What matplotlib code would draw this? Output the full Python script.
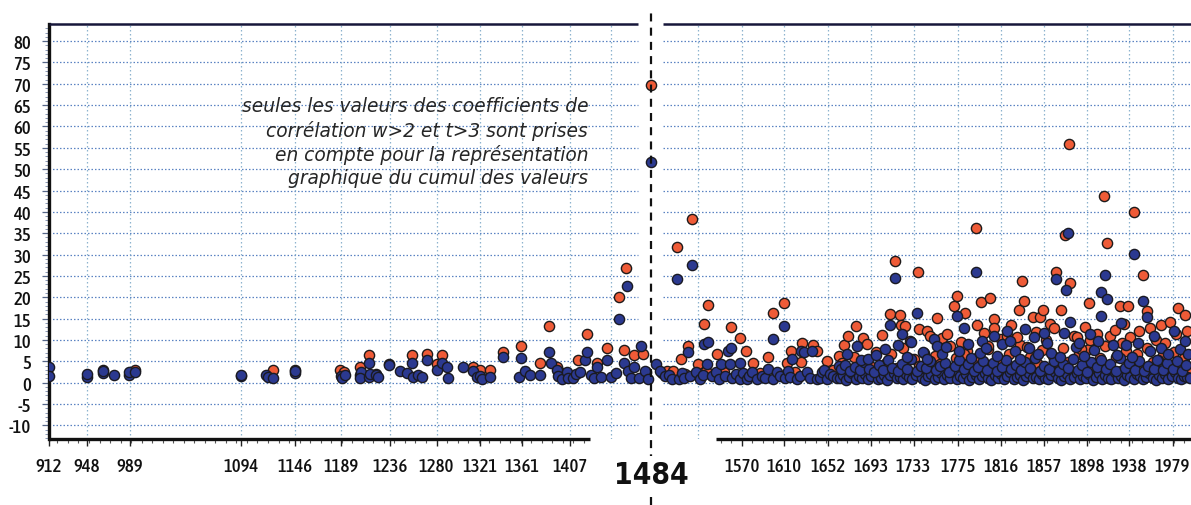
import matplotlib
matplotlib.use("Agg")
import matplotlib.pyplot as plt
from matplotlib import font_manager as fm

# ---------------- data (year, value) ----------------
blue_early = [(912, 3.6), (912, 1.6), (948, 1.4), (948, 2.1), (963, 2.2), (963, 2.7),
              (974, 1.9), (988, 1.9), (988, 2.4), (994, 2.6), (1094, 1.6), (1094, 1.9),
              (1118, 1.9), (1120, 1.4), (1125, 1.2), (1146, 2.2), (1146, 2.7)]
red_early = [(963, 2.9), (994, 3.0), (1125, 3.0), (1146, 3.0)]

blue_medieval = [(1189, 1.5), (1190, 1.0), (1193, 1.8), (1207, 1.8), (1208, 2.6), (1207, 1.1),
                 (1216, 4.7), (1216, 1.4), (1217, 2.0), (1223, 1.8), (1224, 1.3), (1235, 4.1),
                 (1245, 2.8), (1252, 2.2), (1258, 1.4), (1262, 1.8), (1266, 1.4), (1257, 4.7),
                 (1271, 5.3), (1280, 3.0), (1285, 4.7), (1290, 3.6), (1291, 1.2), (1305, 3.6),
                 (1315, 2.8), (1318, 1.4), (1321, 1.6), (1323, 0.8), (1331, 1.4), (1343, 6.1),
                 (1358, 1.4), (1360, 5.7), (1364, 2.8), (1369, 1.8), (1378, 1.8), (1387, 7.1),
                 (1389, 4.7), (1394, 3.0), (1395, 1.6), (1399, 0.8), (1404, 2.4), (1405, 1.0),
                 (1410, 1.2), (1412, 2.0), (1416, 2.4), (1421, 5.3), (1423, 7.1), (1427, 1.8),
                 (1430, 1.1), (1432, 3.6), (1436, 1.4), (1442, 5.3), (1446, 1.4), (1450, 2.2),
                 (1453, 14.9), (1458, 4.7), (1461, 22.7), (1462, 2.8), (1465, 1.0), (1468, 3.6),
                 (1472, 1.2), (1474, 8.6), (1478, 2.8), (1481, 0.8), (1484, 51.6)]
red_medieval = [(1188, 2.9), (1192, 2.4), (1207, 3.6), (1216, 6.4), (1223, 2.1), (1235, 4.3),
                (1257, 6.4), (1271, 6.8), (1280, 4.3), (1285, 6.4), (1315, 3.6), (1321, 3.0),
                (1331, 3.0), (1343, 7.2), (1360, 8.6), (1378, 4.7), (1387, 13.2), (1394, 3.6),
                (1399, 2.2), (1414, 5.3), (1423, 11.4), (1432, 4.5), (1442, 8.1), (1453, 20.1),
                (1458, 7.7), (1460, 26.9), (1468, 6.4), (1476, 6.8), (1479, 2.6), (1484, 69.6)]

blue_1500s = [(1488, 4.3), (1492, 2.8), (1497, 1.6), (1501, 1.8), (1504, 0.8), (1508, 24.2),
              (1510, 0.8), (1513, 2.2), (1515, 1.2), (1519, 7.1), (1521, 1.6), (1523, 27.6),
              (1526, 2.4), (1530, 0.8), (1533, 1.8), (1534, 9.0), (1537, 4.3), (1538, 9.6),
              (1542, 1.6), (1545, 2.6), (1548, 0.8), (1550, 4.3), (1554, 1.6), (1557, 7.5),
              (1559, 4.3), (1560, 8.2), (1561, 1.2), (1564, 2.0), (1568, 4.7), (1568, 0.8),
              (1571, 2.2), (1575, 0.8), (1577, 1.6), (1580, 2.4), (1584, 0.8), (1589, 1.6),
              (1592, 1.0), (1595, 3.2), (1600, 10.3), (1600, 0.8), (1603, 2.4), (1606, 1.6),
              (1610, 13.3), (1611, 1.0), (1614, 2.8), (1616, 1.4), (1618, 5.5), (1622, 0.8),
              (1625, 1.6), (1626, 7.5), (1629, 7.1), (1632, 2.4), (1635, 1.0), (1637, 7.3),
              (1641, 0.8), (1644, 1.2), (1646, 2.4), (1648, 3.0), (1651, 0.8), (1654, 2.0),
              (1657, 1.6), (1660, 1.0), (1662, 3.9)]
red_1500s = [(1494, 2.2), (1499, 2.8), (1505, 2.8), (1508, 31.7), (1512, 5.5), (1516, 2.0),
             (1519, 8.6), (1523, 38.3), (1528, 4.3), (1534, 13.7), (1536, 2.8), (1538, 18.1),
             (1546, 6.7), (1553, 2.5), (1560, 13.1), (1568, 10.4), (1574, 7.3), (1581, 4.7),
             (1587, 2.2), (1595, 5.9), (1600, 16.3), (1610, 18.6), (1613, 4.7), (1617, 7.5),
             (1620, 2.6), (1626, 4.9), (1627, 9.4), (1638, 8.9), (1641, 7.5), (1651, 5.1),
             (1657, 2.9), (1662, 6.3)]

blue_low_band = [(1663, 1.0), (1666, 1.8), (1669, 0.7), (1672, 1.4), (1675, 2.2), (1678, 0.9),
                 (1681, 1.6), (1684, 1.1), (1687, 2.0), (1690, 0.8), (1693, 1.5), (1696, 2.4),
                 (1699, 0.9), (1702, 1.2), (1705, 1.9), (1708, 0.7), (1711, 1.7), (1714, 2.3),
                 (1717, 1.0), (1720, 1.4), (1723, 0.8), (1726, 2.1), (1729, 1.3), (1732, 0.9),
                 (1735, 1.8), (1738, 2.5), (1741, 1.1), (1744, 0.7), (1747, 1.6), (1750, 2.0),
                 (1753, 0.9), (1756, 1.4), (1759, 2.2), (1762, 0.8), (1765, 1.7), (1768, 1.2),
                 (1771, 2.4), (1774, 0.9), (1777, 1.5), (1780, 1.0), (1783, 2.1), (1786, 0.7),
                 (1789, 1.3), (1792, 1.9), (1795, 0.8), (1798, 1.6), (1801, 2.3), (1804, 1.0),
                 (1807, 0.7), (1810, 1.8), (1813, 1.2), (1816, 2.0), (1819, 0.8), (1822, 1.5),
                 (1825, 2.4), (1828, 0.9), (1831, 1.3), (1834, 1.9), (1837, 0.7), (1840, 1.6),
                 (1843, 2.2), (1846, 1.0), (1849, 1.4), (1852, 0.8), (1855, 2.1), (1858, 1.2),
                 (1861, 0.9), (1864, 1.7), (1867, 2.5), (1870, 1.0), (1873, 0.7), (1876, 1.5),
                 (1879, 2.0), (1882, 0.9), (1885, 1.3), (1888, 2.3), (1891, 0.8), (1894, 1.6),
                 (1897, 1.1), (1900, 2.0), (1903, 0.7), (1906, 1.4), (1909, 2.2), (1912, 0.9),
                 (1915, 1.8), (1918, 1.2), (1921, 0.8), (1924, 2.4), (1927, 1.0), (1930, 1.5),
                 (1933, 0.7), (1936, 1.9), (1939, 1.3), (1942, 0.9), (1945, 2.1), (1948, 1.6),
                 (1951, 0.8), (1954, 1.4), (1957, 2.3), (1960, 1.0), (1963, 0.7), (1966, 1.7),
                 (1969, 1.2), (1972, 2.0), (1975, 0.9), (1978, 1.5), (1981, 2.4), (1984, 1.1),
                 (1987, 0.8), (1990, 1.6), (1993, 1.3), (1996, 1.0)]

blue_mid_band = [(1664, 3.1), (1668, 4.2), (1673, 2.7), (1677, 3.6), (1682, 2.9), (1686, 4.8),
                 (1691, 3.3), (1695, 2.6), (1700, 4.1), (1704, 3.0), (1709, 5.2), (1713, 3.5),
                 (1718, 2.8), (1722, 4.4), (1727, 3.2), (1731, 5.6), (1736, 2.7), (1740, 4.0),
                 (1745, 3.4), (1749, 5.0), (1754, 2.9), (1758, 3.8), (1763, 4.6), (1767, 2.6),
                 (1772, 3.9), (1776, 5.4), (1781, 3.1), (1785, 4.3), (1790, 2.8), (1794, 3.7),
                 (1799, 5.1), (1803, 3.0), (1808, 4.5), (1812, 2.7), (1817, 3.6), (1821, 5.3),
                 (1826, 3.2), (1830, 4.1), (1835, 2.9), (1839, 4.8), (1844, 3.4), (1848, 5.7),
                 (1853, 2.8), (1857, 4.0), (1862, 3.3), (1866, 5.0), (1871, 2.7), (1875, 4.4),
                 (1880, 3.5), (1884, 5.5), (1889, 3.0), (1893, 4.2), (1898, 2.6), (1902, 4.9),
                 (1907, 3.6), (1911, 5.2), (1916, 3.1), (1920, 4.3), (1925, 2.8), (1929, 5.8),
                 (1934, 3.4), (1938, 4.6), (1943, 3.0), (1947, 5.1), (1952, 2.7), (1956, 4.0),
                 (1961, 3.3), (1965, 5.4), (1970, 2.9), (1974, 4.5), (1979, 3.2), (1983, 5.0),
                 (1988, 2.8), (1992, 4.2)]

blue_upper = [(1670, 6.7), (1679, 8.6), (1683, 5.2), (1690, 5.6), (1697, 6.4), (1706, 7.8),
              (1711, 13.5), (1715, 24.6), (1718, 8.9), (1722, 11.4), (1727, 6.1), (1731, 9.6),
              (1736, 16.4), (1742, 7.2), (1746, 5.5), (1752, 10.2), (1755, 8.6), (1760, 6.8),
              (1764, 8.3), (1774, 15.6), (1776, 7.5), (1781, 12.9), (1785, 9.1), (1788, 5.8),
              (1792, 26.0), (1796, 6.9), (1798, 9.8), (1802, 8.0), (1809, 11.0), (1812, 6.3),
              (1817, 9.0), (1822, 12.1), (1825, 9.8), (1829, 7.4), (1834, 5.6), (1839, 12.5),
              (1843, 8.1), (1847, 10.6), (1851, 6.6), (1857, 11.6), (1860, 9.3), (1864, 7.0),
              (1868, 24.2), (1872, 5.9), (1876, 11.6), (1878, 21.7), (1880, 35.0), (1882, 14.3),
              (1887, 8.4), (1890, 9.4), (1895, 6.2), (1901, 11.5), (1904, 7.7), (1908, 9.8),
              (1911, 21.3), (1911, 15.6), (1915, 25.3), (1917, 19.5), (1922, 8.7), (1926, 6.4),
              (1930, 14.0), (1935, 8.8), (1940, 6.0), (1942, 30.1), (1946, 9.2), (1951, 19.2),
              (1955, 15.3), (1958, 7.3), (1961, 11.0), (1964, 5.4), (1968, 8.0), (1975, 6.6),
              (1980, 12.1), (1986, 7.9), (1991, 9.8), (1994, 6.8)]

red_band = [(1665, 4.5), (1670, 3.2), (1676, 6.0), (1681, 2.6), (1687, 5.1), (1692, 3.8),
            (1697, 7.2), (1702, 2.9), (1707, 4.7), (1712, 6.6), (1717, 3.4), (1723, 8.1),
            (1728, 2.7), (1733, 5.5), (1738, 4.0), (1743, 7.0), (1748, 3.1), (1753, 6.2),
            (1758, 4.4), (1763, 8.5), (1768, 2.8), (1773, 5.8), (1778, 3.6), (1784, 7.4),
            (1789, 2.5), (1794, 6.0), (1799, 4.2), (1804, 7.8), (1809, 3.3), (1814, 5.6),
            (1819, 2.7), (1824, 6.8), (1829, 4.0), (1834, 8.8), (1839, 3.0), (1844, 5.9),
            (1850, 4.6), (1855, 7.6), (1860, 2.9), (1865, 6.3), (1870, 3.7), (1875, 8.2),
            (1880, 4.9), (1885, 2.6), (1890, 6.7), (1895, 4.1), (1900, 7.9), (1905, 3.2),
            (1910, 5.8), (1915, 8.6), (1920, 3.5), (1925, 6.1), (1930, 2.8), (1935, 7.3),
            (1940, 4.4), (1945, 6.6), (1950, 3.0), (1955, 8.0), (1960, 4.8), (1965, 2.7),
            (1970, 6.4), (1975, 3.9), (1980, 7.1), (1985, 4.3), (1990, 5.7), (1995, 3.4),
            (1700, 1.8), (1740, 2.0), (1760, 1.6), (1797, 2.2), (1826, 1.9), (1862, 2.3),
            (1893, 1.7), (1927, 2.4), (1958, 2.0), (1988, 2.2)]

red_upper = [(1667, 8.9), (1671, 11.0), (1678, 13.3), (1685, 10.5), (1689, 9.0), (1703, 11.2),
             (1711, 16.0), (1715, 28.5), (1720, 15.8), (1721, 13.4), (1725, 13.3), (1730, 9.8),
             (1737, 25.8), (1738, 12.6), (1746, 12.2), (1749, 11.0), (1755, 15.1), (1760, 10.4),
             (1765, 11.4), (1768, 8.6), (1771, 18.0), (1774, 20.3), (1778, 9.5), (1781, 6.7),
             (1782, 16.4), (1789, 4.7), (1792, 36.3), (1793, 13.5), (1797, 18.8), (1800, 11.6),
             (1804, 8.6), (1806, 19.9), (1809, 14.8), (1809, 12.9), (1816, 10.2), (1822, 11.0),
             (1826, 13.6), (1831, 10.8), (1833, 17.0), (1836, 23.8), (1838, 19.2), (1841, 8.3),
             (1846, 15.3), (1849, 11.9), (1853, 15.3), (1856, 17.0), (1859, 9.9), (1863, 13.7),
             (1866, 12.8), (1868, 26.0), (1869, 4.3), (1873, 17.0), (1877, 34.5), (1881, 55.9),
             (1882, 23.4), (1885, 11.0), (1888, 10.6), (1892, 7.9), (1896, 13.1), (1900, 18.6),
             (1901, 10.0), (1907, 11.5), (1914, 43.8), (1917, 32.7), (1917, 2.8), (1920, 11.0),
             (1924, 12.4), (1929, 17.9), (1931, 9.4), (1933, 13.8), (1937, 17.9), (1939, 10.7),
             (1942, 39.9), (1944, 2.0), (1947, 12.1), (1951, 25.3), (1955, 16.8), (1958, 12.9),
             (1963, 10.1), (1968, 13.5), (1972, 9.4), (1977, 14.3), (1982, 11.3), (1984, 17.5),
             (1991, 15.9), (1993, 12.0)]

year_labels = [912, 948, 989, 1094, 1146, 1189, 1236, 1280, 1321, 1361, 1407,
               1570, 1610, 1652, 1693, 1733, 1775, 1816, 1857, 1898, 1938, 1979]
hidden_grid_years = [1446, 1528]
y_ticks = list(range(-10, 81, 5))
event_year = 1484
note = ("seules les valeurs des coefficients de\n"
        "corrélation w>2 et t>3 sont prises\n"
        "en compte pour la représentation\n"
        "graphique du cumul des valeurs")

red_all = red_early + red_medieval + red_1500s + red_band + red_upper
blue_all = blue_early + blue_medieval + blue_1500s + blue_low_band + blue_mid_band + blue_upper
rx, ry = zip(*red_all)
bx, by = zip(*blue_all)


# ---------------- pick narrow fonts if installed ----------------
def wnum(w):
    if isinstance(w, (int, float)):
        return int(w)
    table = {"ultralight": 200, "light": 300, "normal": 400, "regular": 400, "book": 400,
             "medium": 500, "roman": 400, "semibold": 600, "demibold": 600, "demi": 600,
             "bold": 700, "heavy": 800, "extra bold": 800, "black": 900}
    return table.get(str(w).lower(), 400)


def is_narrow(f):
    return ("Narrow" in f.name or "Condensed" in f.name
            or str(f.stretch) in ("condensed", "semi-condensed", "extra-condensed"))


cands = [f for f in fm.fontManager.ttflist if is_narrow(f) and f.style == "normal"]
reg = [f for f in cands if 400 <= wnum(f.weight) <= 500]
med = [f for f in cands if 500 <= wnum(f.weight) <= 600]
bold = [f for f in cands if wnum(f.weight) >= 650]


def fontargs(lst, fallback_w):
    if not lst:
        return dict(family=["Liberation Sans", "DejaVu Sans"], weight=fallback_w)
    f = lst[0]
    d = dict(family=[f.name, "DejaVu Sans"], weight=wnum(f.weight))
    if str(f.stretch) != "normal":
        d["stretch"] = str(f.stretch)
    return d


tick_args = fontargs(med or reg, "normal")
big_args = fontargs(bold or med or reg, "bold")
if not cands:
    tick_size, big_size = 11.5, 19
else:
    tick_size, big_size = 13.5, 21.5

# ---------------- figure ----------------
W, H = 1191, 506
fig = plt.figure(figsize=(W / 100, H / 100), dpi=100)
ax = fig.add_axes([49 / W, 1 - 440 / H, 1 - 49 / W, 415 / H])
ax.set_xlim(912, 1996.5)
ax.set_ylim(-13.2, 84.0)

tick_font = dict(tick_args, size=tick_size)

# grid
gap_lo, gap_hi = 1471, 1495
for yv in y_ticks:
    for a, b in [(912, gap_lo), (gap_hi, 1996.5)]:
        ax.plot([a, b], [yv, yv], color="#5b83c2", lw=0.9, ls=(0, (1.2, 1.6)), zorder=1)
for xv in year_labels + hidden_grid_years:
    ax.axvline(xv, color="#8db3cf", lw=0.9, ls=(0, (1.2, 2.0)), zorder=1)

# points
ax.scatter(rx, ry, s=54, c="#ef5b37", edgecolors="#1d1a1a", linewidths=1.0, zorder=3)
ax.scatter(bx, by, s=54, c="#2b3990", edgecolors="#1a1a22", linewidths=1.0, zorder=4)

# spines
for s in ["top", "bottom", "right"]:
    ax.spines[s].set_visible(False)
ax.spines["left"].set_linewidth(2.4)
ax.spines["left"].set_color("#111111")
xt = ax.get_xaxis_transform()
for a, b in [(912, 1425.8), (1545.5, 1996.5)]:
    ax.plot([a, b], [0, 0], transform=xt, color="#111111", lw=2.4,
            solid_capstyle="butt", clip_on=False, zorder=5)
for a, b in [(912, gap_lo), (gap_hi, 1996.5)]:
    ax.plot([a, b], [1, 1], transform=xt, color="#16163a", lw=1.8,
            solid_capstyle="butt", clip_on=False, zorder=5)

# dashed event line
ax.plot([event_year, event_year], [-0.159, 1.026], transform=xt, color="#111111",
        lw=1.6, ls=(0, (3.6, 2.8)), clip_on=False, zorder=6)
ax.text(event_year, -0.086, str(event_year), transform=xt, ha="center", va="center",
        fontsize=big_size, color="#111111", zorder=7,
        bbox=dict(facecolor="white", edgecolor="none", pad=3), **big_args)

# ticks
ax.set_xticks(year_labels)
ax.set_xticklabels([str(v) for v in year_labels], fontdict=tick_font)
minor_x = [v for v in range(920, 1996, 10) if not (1426 <= v <= 1545)]
ax.set_xticks(minor_x, minor=True)
ax.tick_params(axis="x", which="major", length=5, width=1.0, color="#222222", pad=8,
               labelcolor="#111111")
ax.tick_params(axis="x", which="minor", length=3, width=0.8, color="#555555")

ax.set_yticks(y_ticks)
ax.set_yticklabels([str(v) for v in y_ticks], fontdict=tick_font)
ax.set_yticks(list(range(-13, 84)), minor=True)
ax.tick_params(axis="y", which="major", length=5, width=0.9, color="#556688", pad=8,
               labelcolor="#111111")
ax.tick_params(axis="y", which="minor", length=3, width=0.6, color="#7788aa")

# note
ax.text(1424, 56.4, note, ha="right", va="center", fontsize=13.4, style="italic",
        color="#262626", linespacing=1.28, zorder=2)

fig.savefig("out.png", dpi=100)
